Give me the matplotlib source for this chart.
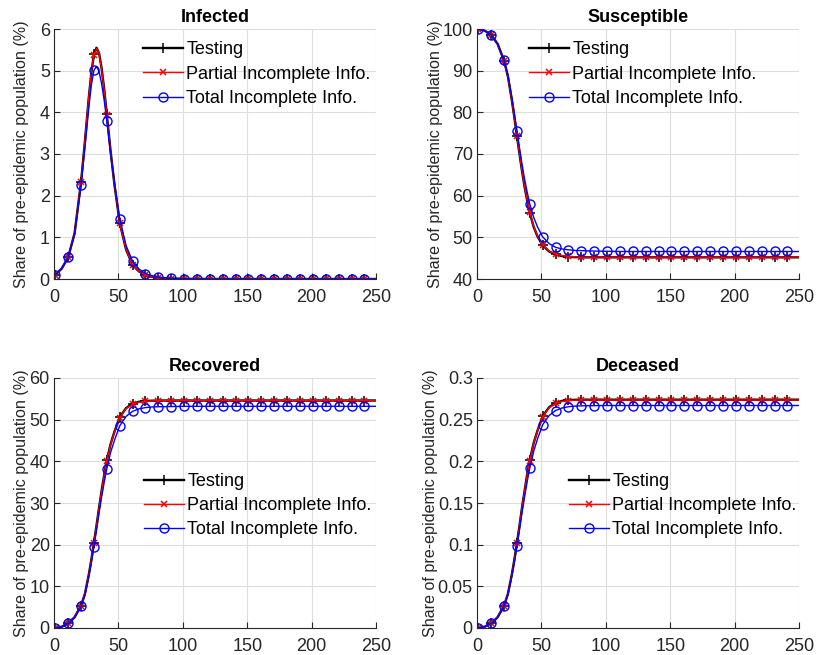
import numpy as np
import matplotlib
matplotlib.use("Agg")
import matplotlib.pyplot as plt

# ---- data: share of pre-epidemic population (%) by day ----
days = [1, 6, 11, 16, 21, 24, 27, 29, 31, 33, 35, 37, 39, 41, 44, 47, 51, 56, 61,
        66, 71, 76, 81, 91, 101, 111, 121, 131, 141, 151, 161, 171, 181, 191,
        201, 211, 221, 231, 241, 250]

infected_testing = [0.10, 0.25, 0.52, 1.10, 2.33, 3.30, 4.35, 4.95, 5.39, 5.55, 5.42, 5.05,
                    4.55, 3.95, 3.05, 2.25, 1.35, 0.70, 0.34, 0.18, 0.10, 0.05, 0.03, 0.01,
                    0.004, 0.002, 0.001, 0, 0, 0, 0, 0, 0, 0, 0, 0, 0, 0, 0, 0]
infected_partial = [0.10, 0.25, 0.52, 1.10, 2.34, 3.31, 4.36, 4.96, 5.38, 5.53, 5.41, 5.04,
                    4.54, 3.94, 3.05, 2.25, 1.34, 0.70, 0.34, 0.18, 0.10, 0.05, 0.03, 0.01,
                    0.004, 0.002, 0.001, 0, 0, 0, 0, 0, 0, 0, 0, 0, 0, 0, 0, 0]
infected_total = [0.10, 0.25, 0.52, 1.08, 2.26, 3.15, 4.10, 4.65, 5.01, 5.10, 4.98, 4.68,
                  4.28, 3.80, 3.00, 2.30, 1.45, 0.80, 0.43, 0.24, 0.13, 0.08, 0.04, 0.015,
                  0.005, 0.002, 0.001, 0, 0, 0, 0, 0, 0, 0, 0, 0, 0, 0, 0, 0]

susceptible_testing = [100.0, 99.6, 98.6, 96.4, 92.4, 88.6, 83.0, 78.8, 74.3, 70.0, 65.8, 62.0,
                       58.8, 55.9, 52.5, 50.2, 48.1, 46.6, 45.9, 45.5, 45.3, 45.25, 45.2, 45.2,
                       45.2, 45.2, 45.2, 45.2, 45.2, 45.2, 45.2, 45.2, 45.2, 45.2, 45.2, 45.2,
                       45.2, 45.2, 45.2, 45.2]
susceptible_partial = [100.0, 99.6, 98.6, 96.4, 92.4, 88.6, 83.0, 78.8, 74.4, 70.1, 65.9, 62.1,
                       58.9, 56.0, 52.6, 50.3, 48.2, 46.7, 46.0, 45.6, 45.4, 45.3, 45.25, 45.25,
                       45.25, 45.25, 45.25, 45.25, 45.25, 45.25, 45.25, 45.25, 45.25, 45.25,
                       45.25, 45.25, 45.25, 45.25, 45.25, 45.25]
susceptible_total = [100.0, 99.6, 98.6, 96.5, 92.5, 89.0, 83.7, 79.8, 75.6, 71.5, 67.5, 63.9,
                     60.8, 58.0, 54.8, 52.5, 50.1, 48.5, 47.6, 47.2, 47.0, 46.85, 46.8, 46.7,
                     46.65, 46.6, 46.6, 46.6, 46.6, 46.6, 46.6, 46.6, 46.6, 46.6, 46.6, 46.6,
                     46.6, 46.6, 46.6, 46.6]

recovered_testing = [0.0, 0.3, 1.1, 2.6, 5.4, 8.2, 12.8, 16.4, 20.5, 24.6, 28.9, 33.0, 36.8,
                     40.3, 44.2, 47.2, 50.6, 52.8, 53.8, 54.3, 54.5, 54.55, 54.6, 54.6, 54.6,
                     54.6, 54.6, 54.6, 54.6, 54.6, 54.6, 54.6, 54.6, 54.6, 54.6, 54.6, 54.6,
                     54.6, 54.6, 54.6]
recovered_partial = [0.0, 0.3, 1.1, 2.6, 5.4, 8.2, 12.7, 16.3, 20.4, 24.5, 28.8, 32.9, 36.7,
                     40.2, 44.1, 47.1, 50.5, 52.7, 53.7, 54.2, 54.4, 54.5, 54.55, 54.55, 54.55,
                     54.55, 54.55, 54.55, 54.55, 54.55, 54.55, 54.55, 54.55, 54.55, 54.55,
                     54.55, 54.55, 54.55, 54.55, 54.55]
recovered_total = [0.0, 0.3, 1.1, 2.5, 5.2, 7.9, 12.3, 15.7, 19.5, 23.5, 27.6, 31.5, 35.0,
                   38.2, 42.2, 45.1, 48.5, 50.8, 52.0, 52.6, 52.9, 53.05, 53.1, 53.15, 53.2,
                   53.2, 53.2, 53.2, 53.2, 53.2, 53.2, 53.2, 53.2, 53.2, 53.2, 53.2, 53.2,
                   53.2, 53.2, 53.2]

deceased_testing = [0.0, 0.0015, 0.0055, 0.013, 0.027, 0.041, 0.064, 0.082, 0.102, 0.123,
                    0.145, 0.165, 0.185, 0.2016, 0.222, 0.237, 0.254, 0.265, 0.270, 0.2725,
                    0.2735, 0.2738, 0.274, 0.274, 0.274, 0.274, 0.274, 0.274, 0.274, 0.274,
                    0.274, 0.274, 0.274, 0.274, 0.274, 0.274, 0.274, 0.274, 0.274, 0.274]
deceased_partial = [0.0, 0.0015, 0.0055, 0.013, 0.027, 0.041, 0.0635, 0.0815, 0.1015, 0.1225,
                    0.1445, 0.1645, 0.1845, 0.201, 0.2215, 0.2365, 0.2535, 0.2645, 0.2695,
                    0.272, 0.273, 0.2734, 0.2736, 0.2736, 0.2736, 0.2736, 0.2736, 0.2736,
                    0.2736, 0.2736, 0.2736, 0.2736, 0.2736, 0.2736, 0.2736, 0.2736, 0.2736,
                    0.2736, 0.2736, 0.2736]
deceased_total = [0.0, 0.0015, 0.0055, 0.0125, 0.026, 0.040, 0.062, 0.079, 0.098, 0.118,
                  0.139, 0.158, 0.176, 0.192, 0.212, 0.227, 0.244, 0.255, 0.261, 0.264,
                  0.2655, 0.2663, 0.2666, 0.2668, 0.267, 0.267, 0.267, 0.267, 0.267, 0.267,
                  0.267, 0.267, 0.267, 0.267, 0.267, 0.267, 0.267, 0.267, 0.267, 0.267]

series_labels = ["Testing", "Partial Incomplete Info.", "Total Incomplete Info."]
panel_titles = ["Infected", "Susceptible", "Recovered", "Deceased"]
y_label = "Share of pre-epidemic population (%)"

x_ticks = [0, 50, 100, 150, 200, 250]
infected_ticks = [0, 1, 2, 3, 4, 5, 6]
susceptible_ticks = [40, 50, 60, 70, 80, 90, 100]
recovered_ticks = [0, 10, 20, 30, 40, 50, 60]
deceased_ticks = [0, 0.05, 0.1, 0.15, 0.2, 0.25, 0.3]
deceased_tick_labels = ["0", "0.05", "0.1", "0.15", "0.2", "0.25", "0.3"]

# ---- styling ----
plt.rcParams["font.family"] = ["Liberation Sans", "DejaVu Sans"]
FS = 13
FS_YLABEL = 11.6
styles = [
    dict(color="#000000", marker="+", markersize=6.5, lw=1.7, mew=1.1),
    dict(color="#ff0000", marker="x", markersize=4.5, lw=1.0, mew=1.1),
    dict(color="#0000ff", marker="o", markersize=6.5, lw=1.0, mew=1.0,
         markerfacecolor="none"),
]

fig = plt.figure(figsize=(8.16, 6.55), dpi=100)
W, H = 816, 655

def add_axes(left_px, top_px, w_px=322, h_px=250):
    return fig.add_axes([left_px / W, 1 - (top_px + h_px) / H, w_px / W, h_px / H])

ax_inf = add_axes(54, 29)
ax_sus = add_axes(477, 29)
ax_rec = add_axes(54, 378)
ax_dec = add_axes(477, 378)

marker_idx = [i for i, d in enumerate(days) if (d - 1) % 10 == 0]

panels = [
    (ax_inf, [infected_testing, infected_partial, infected_total], infected_ticks, None,
     (0, 6), (0.2764, 0.950), 22),
    (ax_sus, [susceptible_testing, susceptible_partial, susceptible_total], susceptible_ticks,
     None, (40, 100), (0.1615, 0.950), 436),
    (ax_rec, [recovered_testing, recovered_partial, recovered_total], recovered_ticks, None,
     (0, 60), (0.2795, 0.620), 22),
    (ax_dec, [deceased_testing, deceased_partial, deceased_total], deceased_ticks,
     deceased_tick_labels, (0, 0.3), (0.2857, 0.620), 431),
]

for (ax, ys, yt, ytl, ylim, leg_pos, ylab_x), title in zip(panels, panel_titles):
    for y, st, lab in zip(ys, styles, series_labels):
        ax.plot(days, y, label=lab, markevery=marker_idx, **st)
    ax.set_xlim(0, 250)
    ax.set_ylim(*ylim)
    ax.set_xticks(x_ticks)
    ax.set_yticks(yt)
    if ytl is not None:
        ax.set_yticklabels(ytl)
    ax.grid(True, color="#dedede", lw=0.8)
    ax.set_axisbelow(True)
    for s in ("top", "right"):
        ax.spines[s].set_visible(False)
    for s in ("left", "bottom"):
        ax.spines[s].set_color("#262626")
        ax.spines[s].set_linewidth(0.8)
    ax.tick_params(direction="in", length=4, width=0.8, colors="#262626",
                   labelsize=FS, labelcolor="#262626")
    ax.tick_params(axis="x", pad=7)
    ax.tick_params(axis="y", pad=3)
    ax.set_title(title, fontsize=FS, fontweight="bold", pad=5)
    ax.set_ylabel(y_label, fontsize=FS_YLABEL, color="#262626")
    bbox = ax.get_position()
    ax.yaxis.set_label_coords((ylab_x / W - bbox.x0) / bbox.width, 0.5)
    ax.yaxis.label.set_va("center")
    ax.legend(loc="upper left", bbox_to_anchor=leg_pos, frameon=False, fontsize=FS,
              borderpad=0, borderaxespad=0, handlelength=2.2, handletextpad=0.2,
              labelspacing=0.4)

fig.savefig("out.png", dpi=100)
